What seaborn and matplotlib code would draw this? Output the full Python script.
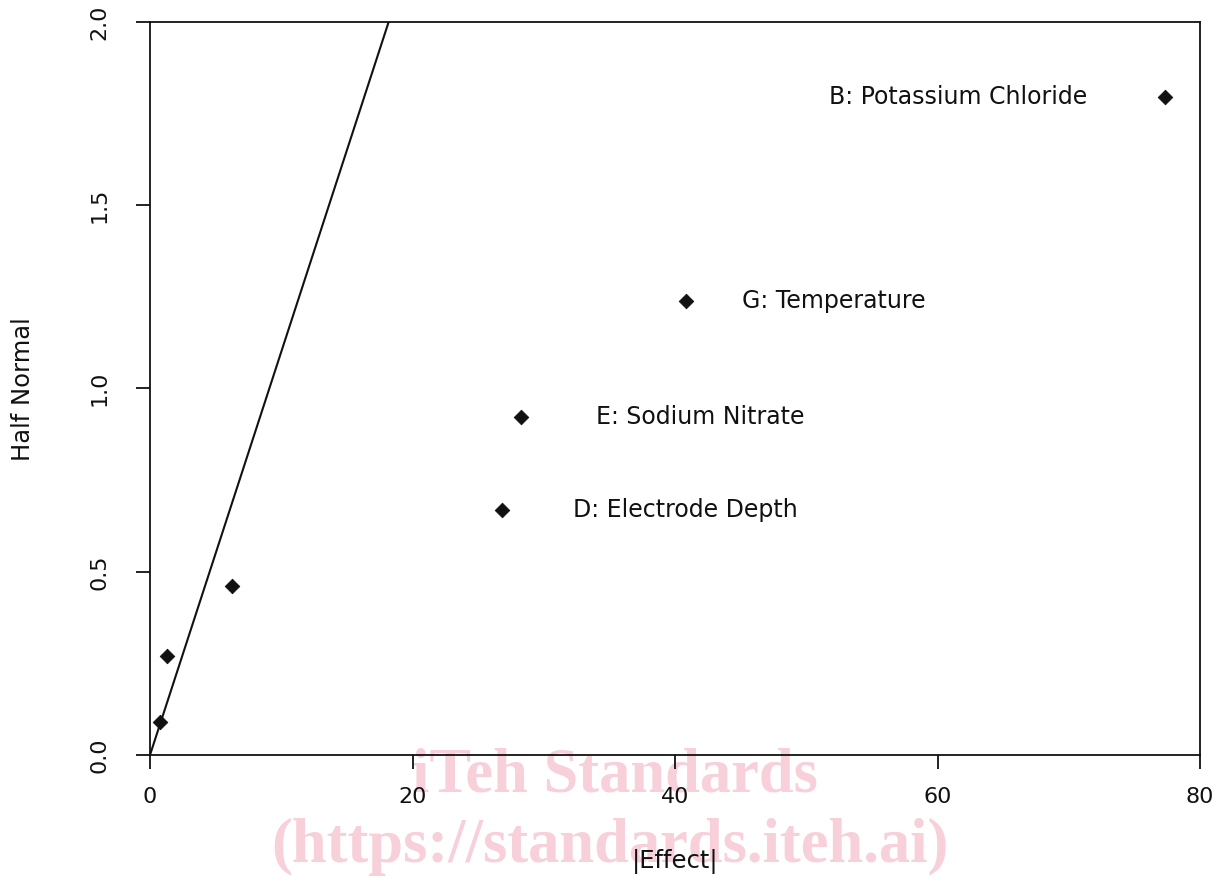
import matplotlib
matplotlib.use("Agg")
import matplotlib.pyplot as plt
import seaborn as sns
import numpy as np
import pandas as pd

# data
effect = [0.76, 1.3, 6.25, 26.8, 28.3, 40.8, 77.3]
half_normal = [0.09, 0.27, 0.46, 0.668, 0.922, 1.239, 1.795]

label_names = ["D: Electrode Depth", "E: Sodium Nitrate", "G: Temperature", "B: Potassium Chloride"]
label_x = [32.2, 34.0, 45.1, 51.7]
label_y = [0.668, 0.922, 1.239, 1.795]

ref_line_x = [0, 80]
ref_slope = 0.11

x_ticks = [0, 20, 40, 60, 80]
y_ticks = [0.0, 0.5, 1.0, 1.5, 2.0]

sns.set_style("white")
plt.rcParams["font.family"] = ["DejaVu Sans"]

df = pd.DataFrame({"effect": effect, "hn": half_normal})

fig = plt.figure(figsize=(12.25, 8.77), dpi=100)
ax = fig.add_axes([150 / 1225, 1 - 755 / 877, 1050 / 1225, 733 / 877])
ax.patch.set_alpha(0)

sns.scatterplot(data=df, x="effect", y="hn", marker="D", s=55, color="#111111",
                edgecolor="#111111", ax=ax, zorder=3)
line_x = np.array(ref_line_x)
ax.plot(line_x, ref_slope * line_x, color="#111111", lw=1.5)

for name, lx, ly in zip(label_names, label_x, label_y):
    ax.text(lx, ly, name, fontsize=17, color="#111111", va="center", ha="left")

ax.set_xlim(0, 80)
ax.set_ylim(0, 2.0)
ax.set_xticks(x_ticks)
ax.set_yticks(y_ticks)
ax.set_xticklabels([str(t) for t in x_ticks])
ax.set_yticklabels([f"{t:.1f}" for t in y_ticks], rotation=90, va="center")
ax.tick_params(axis="both", direction="out", length=10, width=1.3, labelsize=16,
               colors="#111111", bottom=True, left=True)
ax.tick_params(axis="x", pad=13)
ax.tick_params(axis="y", pad=19)
for s in ax.spines.values():
    s.set_color("#111111")
    s.set_linewidth(1.3)
ax.set_xlabel("|Effect|", fontsize=17.5, color="#111111", va="center")
ax.set_ylabel("Half Normal", fontsize=17.5, color="#111111", va="center")
ax.xaxis.set_label_coords((675 - 150) / 1050, (755 - 861) / 733)
ax.yaxis.set_label_coords((23 - 150) / 1050, (755 - 389) / 733)

# watermark, drawn behind everything
wm = dict(fontsize=45, fontweight="bold", family="Liberation Serif", color="#f7d0da",
          ha="center", va="baseline", zorder=-1)
fig.text(615 / 1225, 1 - 792 / 877, "iTeh Standards", **wm)
fig.text(610 / 1225, 1 - 862 / 877, "(https://standards.iteh.ai)", **wm)

fig.savefig("out.png", dpi=100)
